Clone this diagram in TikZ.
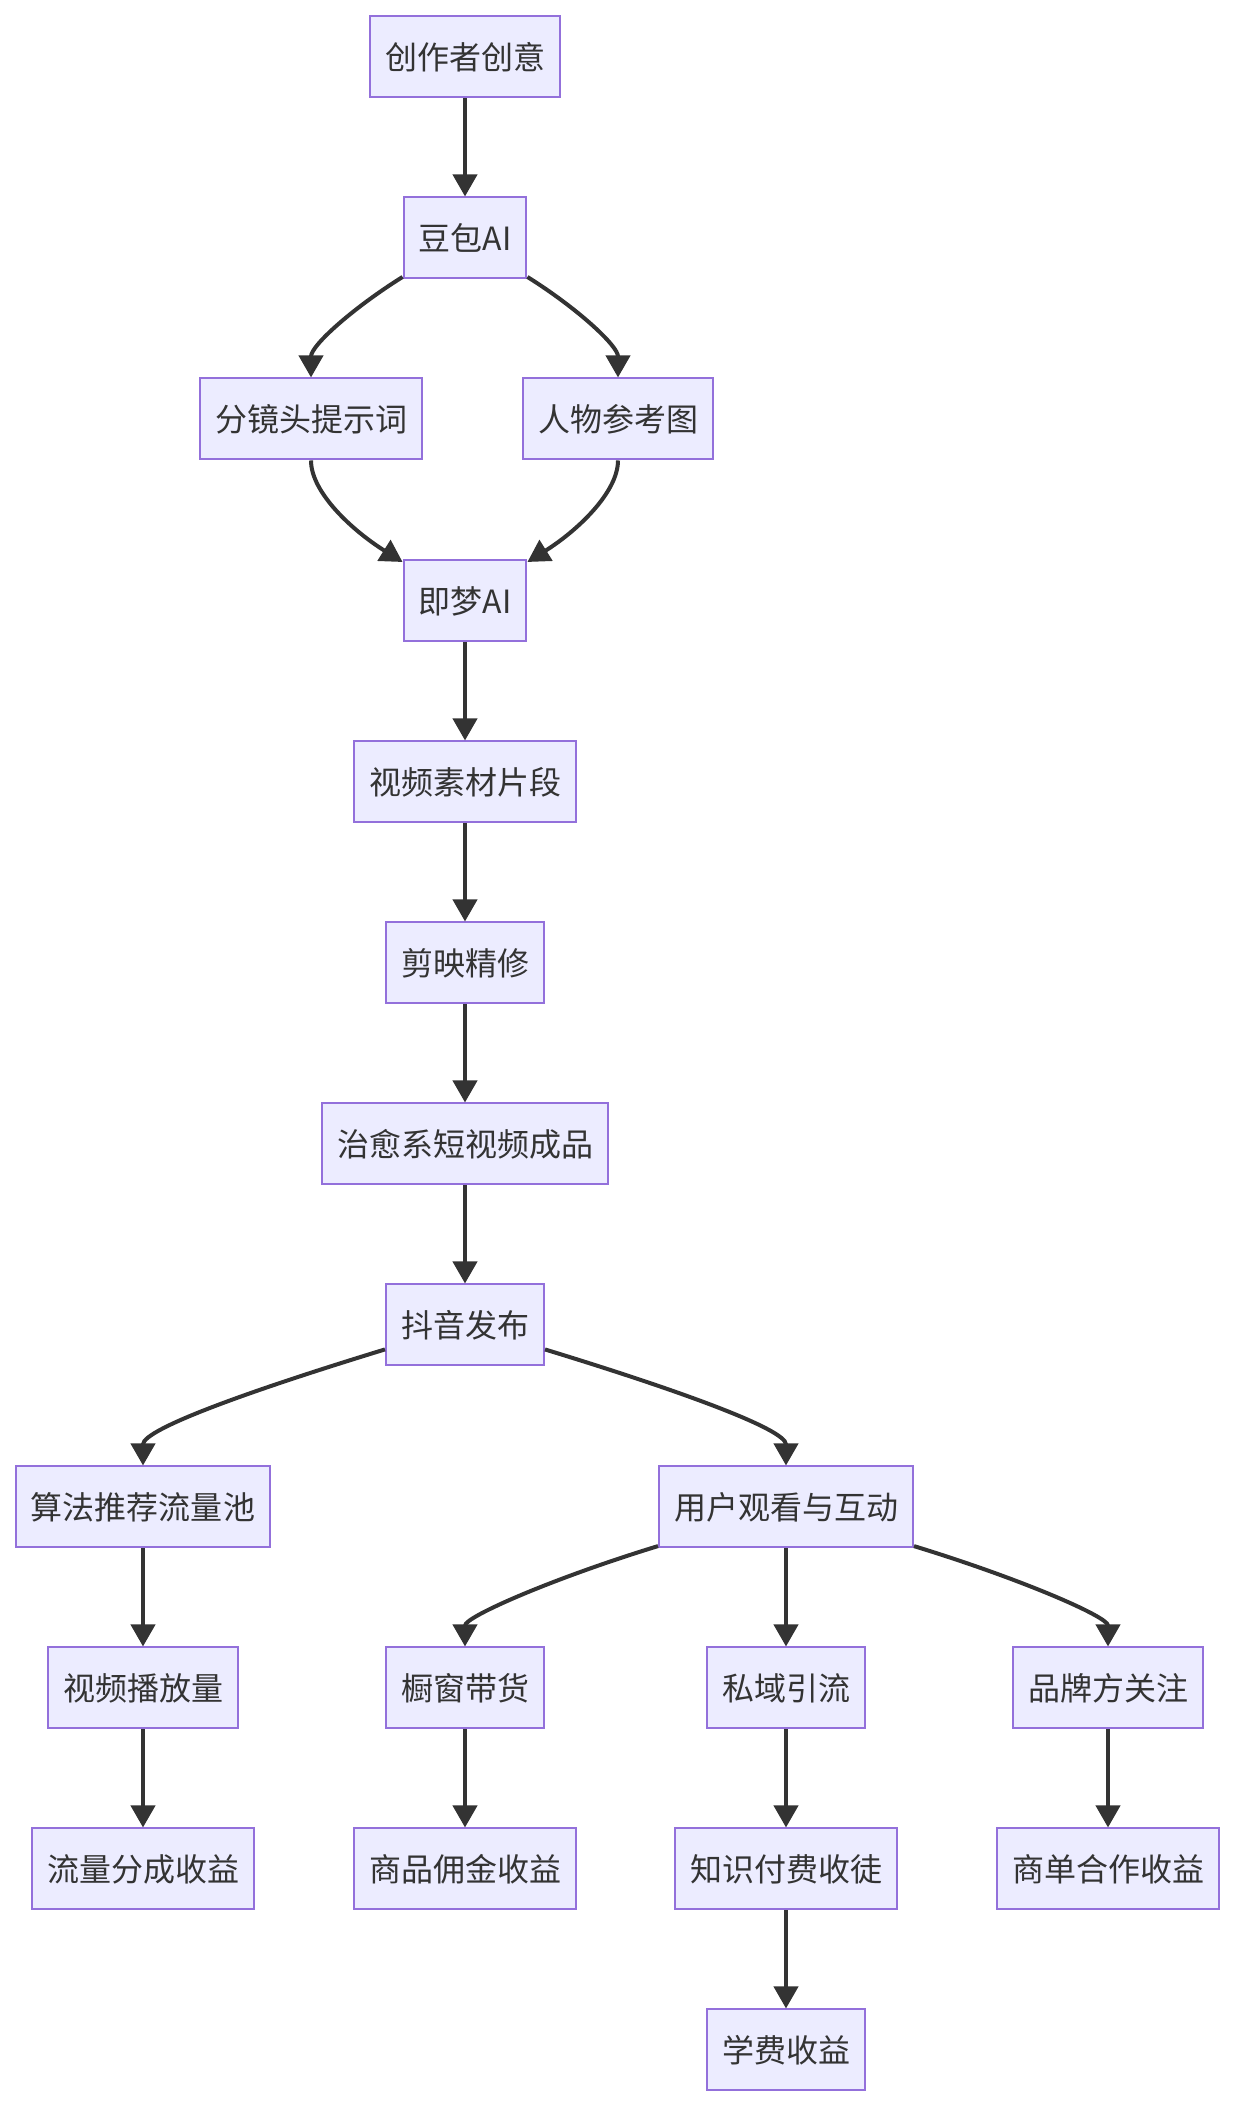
\documentclass[tikz,border=0pt]{standalone}
\usepackage{fontspec}
\newfontfamily\cjk{Noto Sans CJK SC}
\usetikzlibrary{arrows.meta}
\definecolor{boxfill}{HTML}{ECECFF}
\definecolor{boxline}{HTML}{9370DB}
\definecolor{ink}{HTML}{333333}
\begin{document}
\begin{tikzpicture}[x=0.5pt,y=0.5pt,
  box/.style={draw=boxline,line width=1pt,fill=boxfill,text=ink,font=\cjk\fontsize{16pt}{19pt}\selectfont,
    minimum height=40.5pt,inner xsep=7.5pt,inner ysep=0pt},
  link/.style={draw=ink,line width=2pt,-{Triangle[length=11pt,width=12pt]}},
  fan/.style={out looseness=1.3,in looseness=0.35}]
\useasboundingbox (0,0) rectangle (1236,2108);
\node[box] (idea) at (465,2051) {创作者创意};
\node[box] (doubao) at (465,1870) {豆包AI};
\node[box] (prompt) at (311,1689) {分镜头提示词};
\node[box] (refimg) at (618,1689) {人物参考图};
\node[box] (jimeng) at (465,1507) {即梦AI};
\node[box] (clips) at (465,1326) {视频素材片段};
\node[box] (edit) at (465,1145) {剪映精修};
\node[box] (final) at (465,964) {治愈系短视频成品};
\node[box] (publish) at (465,783) {抖音发布};
\node[box] (algo) at (143,601) {算法推荐流量池};
\node[box] (viewer) at (786,601) {用户观看与互动};
\node[box] (plays) at (143,420) {视频播放量};
\node[box] (shop) at (465,420) {橱窗带货};
\node[box] (private) at (786,420) {私域引流};
\node[box] (brand) at (1108,420) {品牌方关注};
\node[box] (share) at (143,239) {流量分成收益};
\node[box] (commission) at (465,239) {商品佣金收益};
\node[box] (course) at (786,239) {知识付费收徒};
\node[box] (deal) at (1108,239) {商单合作收益};
\node[box] (tuition) at (786,58) {学费收益};
% straight links
\foreach \a/\b in {idea/doubao,jimeng/clips,clips/edit,edit/final,final/publish,algo/plays,plays/share,
  shop/commission,viewer/private,private/course,course/tuition,brand/deal}
  \draw[link] (\a) -- (\b);
% curved links
\draw[link] (doubao) to[out=212,in=90,out looseness=1.1,in looseness=0.6] (prompt);
\draw[link] (doubao) to[out=-32,in=90,out looseness=1.1,in looseness=0.6] (refimg);
\draw[link] (prompt) to[out=-90,in=148,out looseness=0.6,in looseness=1.1] (jimeng);
\draw[link] (refimg) to[out=-90,in=32,out looseness=0.6,in looseness=1.1] (jimeng);
\draw[link,fan] (publish) to[out=197,in=90] (algo);
\draw[link,fan] (publish) to[out=-17,in=90] (viewer);
\draw[link,fan] (viewer) to[out=197,in=90] (shop);
\draw[link,fan] (viewer) to[out=-17,in=90] (brand);
\end{tikzpicture}
\end{document}
